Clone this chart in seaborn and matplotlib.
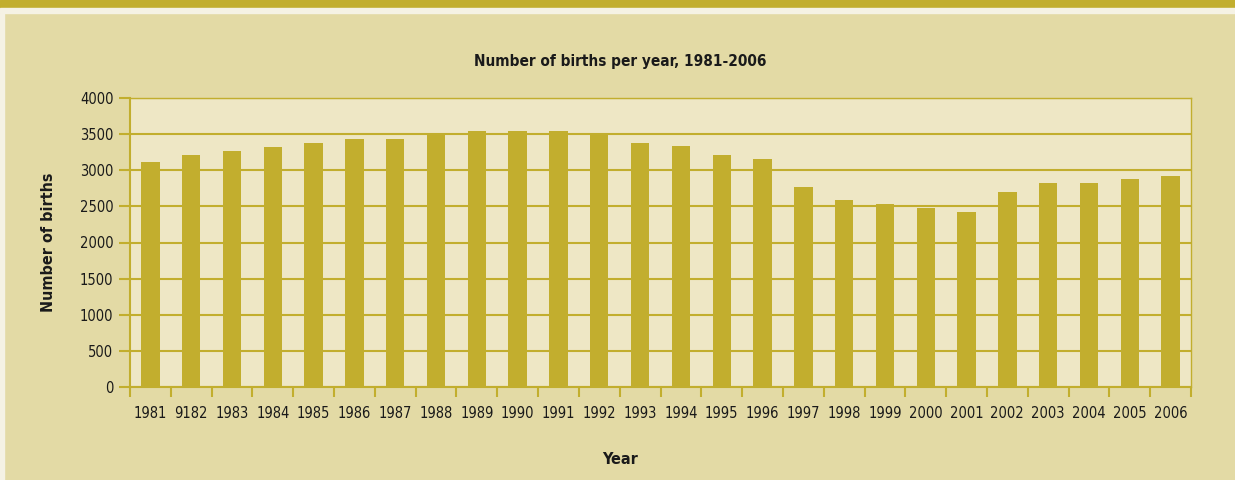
import numpy as np
import pandas as pd
import matplotlib
matplotlib.use("Agg")
import matplotlib.pyplot as plt
import seaborn as sns
from matplotlib.patches import Rectangle

# Data
years = [1981, 1982, 1983, 1984, 1985, 1986, 1987, 1988, 1989, 1990, 1991, 1992, 1993,
         1994, 1995, 1996, 1997, 1998, 1999, 2000, 2001, 2002, 2003, 2004, 2005, 2006]
year_labels = ["1981", "9182", "1983", "1984", "1985", "1986", "1987", "1988", "1989",
               "1990", "1991", "1992", "1993", "1994", "1995", "1996", "1997", "1998",
               "1999", "2000", "2001", "2002", "2003", "2004", "2005", "2006"]
births = [3110, 3216, 3272, 3327, 3382, 3437, 3437, 3493, 3548, 3550, 3550, 3490, 3382,
          3330, 3216, 3161, 2774, 2594, 2539, 2480, 2428, 2705, 2829, 2829, 2884, 2926]
y_ticks = [0, 500, 1000, 1500, 2000, 2500, 3000, 3500, 4000]

GOLD = "#C2AE2E"
BG = "#E3DAA5"
PANEL = "#EEE7C5"
LIGHT = "#F5F2E4"
TEXT = "#1A1A1A"

sns.set_style("white")
plt.rcParams['font.family'] = ['DejaVu Sans']
plt.rcParams['font.stretch'] = 'condensed'

df = pd.DataFrame({"Year": year_labels, "Births": births})

fig = plt.figure(figsize=(12.35, 4.8), dpi=100, facecolor=BG)
# top band and thin light strips
fig.patches.append(Rectangle((0, 1 - 8 / 480), 1, 8 / 480, transform=fig.transFigure,
                             color=GOLD, zorder=0))
fig.patches.append(Rectangle((0, 1 - 13 / 480), 1, 5 / 480, transform=fig.transFigure,
                             color=LIGHT, zorder=0))
fig.patches.append(Rectangle((0, 0), 4 / 1235, 1 - 13 / 480, transform=fig.transFigure,
                             color=LIGHT, zorder=0))

ax = fig.add_axes([130 / 1235, 1 - 387 / 480, (1191 - 130) / 1235, (387 - 98) / 480])
ax.set_facecolor(PANEL)

sns.barplot(data=df, x="Year", y="Births", color=GOLD, width=0.45,
            saturation=1, linewidth=0, ax=ax, zorder=3)

ax.set_xlim(-0.5, len(years) - 0.5)
ax.set_ylim(0, 4000)
ax.set_yticks(y_ticks)
ax.set_yticklabels([str(v) for v in y_ticks], fontsize=10.5, color=TEXT)
ax.set_xticks(np.arange(len(years)))
ax.set_xticklabels(year_labels, fontsize=10.5, color=TEXT)
ax.set_xticks(np.arange(len(years) + 1) - 0.5, minor=True)
ax.tick_params(axis="x", which="major", bottom=True, length=0, pad=14)
ax.tick_params(axis="x", which="minor", bottom=True, length=7, width=1.5, color=GOLD)
ax.tick_params(axis="y", left=True, length=8, width=1.5, color=GOLD, pad=4)

ax.grid(axis="y", color=GOLD, linewidth=1.5, zorder=1)
ax.set_axisbelow(True)
for side in ["left", "bottom"]:
    ax.spines[side].set_color(GOLD)
    ax.spines[side].set_linewidth(1.5)
for side in ["right", "top"]:
    ax.spines[side].set_color(GOLD)
    ax.spines[side].set_linewidth(1)

# title and x label sit centred on the figure, not on the axes
x_mid = (620 - 130) / (1191 - 130)
ax.set_xlabel("Year", fontsize=11.5, fontweight="bold", color=TEXT, labelpad=22, x=x_mid)
ax.set_ylabel("Number of births", fontsize=11.5, fontweight="bold", color=TEXT, labelpad=17)
ax.set_title("Number of births per year, 1981-2006", fontsize=11, fontweight="bold",
             color=TEXT, pad=23, x=x_mid)

fig.savefig("out.png", dpi=100, facecolor=BG)
